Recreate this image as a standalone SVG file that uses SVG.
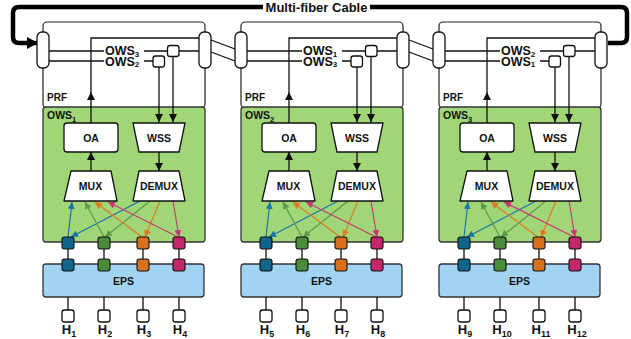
<svg xmlns="http://www.w3.org/2000/svg" width="631" height="339" viewBox="0 0 631 339">
  <style>
    text { font-family: "Liberation Sans", Arial, sans-serif; font-weight: bold; fill: #111; }
    .ln { fill: none; stroke: #111; stroke-width: 1.3; }
    .box { fill: #fff; stroke: #111; stroke-width: 1.3; }
    .prf { fill: #fff; stroke: #222; stroke-width: 1.2; }
    .ows { fill: #a0d678; stroke: #333; stroke-width: 1.3; }
    .eps { fill: #a0d4f2; stroke: #333; stroke-width: 1.3; }
    .pb { fill: #0f668a; stroke: #111; stroke-width: 1.1; }
    .pg { fill: #4a8b3c; stroke: #111; stroke-width: 1.1; }
    .po { fill: #d9701e; stroke: #111; stroke-width: 1.1; }
    .pm { fill: #c4266a; stroke: #111; stroke-width: 1.1; }
    .ab { stroke: #1a74a6; stroke-width: 1.2; fill: none; marker-end: url(#mb); }
    .ag { stroke: #5a9a4a; stroke-width: 1.2; fill: none; marker-end: url(#mg); }
    .ao { stroke: #e07b22; stroke-width: 1.2; fill: none; marker-end: url(#mo); }
    .am { stroke: #c73a77; stroke-width: 1.2; fill: none; marker-end: url(#mm); }
    .lbl { font-size: 12.5px; }
    .nm { font-size: 10.5px; text-anchor: middle; }
    .host { font-size: 13px; text-anchor: middle; }
  </style>
  <defs>
    <marker id="mk" markerUnits="userSpaceOnUse" markerWidth="9" markerHeight="8" refX="8" refY="4" orient="auto">
      <path d="M0,0 L8,4 L0,8 Z" fill="#111"/>
    </marker>
    <marker id="mb" markerUnits="userSpaceOnUse" markerWidth="8" markerHeight="7" refX="7" refY="3.5" orient="auto">
      <path d="M0,0 L7,3.5 L0,7 Z" fill="#1a74a6"/>
    </marker>
    <marker id="mg" markerUnits="userSpaceOnUse" markerWidth="8" markerHeight="7" refX="7" refY="3.5" orient="auto">
      <path d="M0,0 L7,3.5 L0,7 Z" fill="#5a9a4a"/>
    </marker>
    <marker id="mo" markerUnits="userSpaceOnUse" markerWidth="8" markerHeight="7" refX="7" refY="3.5" orient="auto">
      <path d="M0,0 L7,3.5 L0,7 Z" fill="#e07b22"/>
    </marker>
    <marker id="mm" markerUnits="userSpaceOnUse" markerWidth="8" markerHeight="7" refX="7" refY="3.5" orient="auto">
      <path d="M0,0 L7,3.5 L0,7 Z" fill="#c73a77"/>
    </marker>
    <marker id="mc" markerUnits="userSpaceOnUse" markerWidth="12" markerHeight="12" refX="10" refY="6" orient="auto">
      <path d="M0,0 L11,6 L0,12 Z" fill="#000"/>
    </marker>
  </defs>

  <rect width="631" height="339" fill="#fff"/>

  <!-- ===== Optical switch block 1 ===== -->
  <g id="block1">
    <g id="prf1"><rect class="prf" x="43" y="22" width="162" height="86" rx="4"/><text x="47" y="101" font-size="10">PRF</text></g>
    <g id="ows1"><rect class="ows" x="43" y="107" width="162" height="135" rx="3"/><text x="47" y="119" font-size="10.5">OWS<tspan font-size="7.5" dy="2.5">1</tspan></text></g>
    <g id="eps1"><rect class="eps" x="43" y="264" width="161" height="33" rx="3"/><text class="nm" x="123.5" y="284.5">EPS</text></g>
  </g>
  <!-- ===== Optical switch block 2 ===== -->
  <g id="block2" transform="translate(198 0)">
    <g id="prf2"><rect class="prf" x="43" y="22" width="162" height="86" rx="4"/><text x="47" y="101" font-size="10">PRF</text></g>
    <g id="ows2"><rect class="ows" x="43" y="107" width="162" height="135" rx="3"/><text x="47" y="119" font-size="10.5">OWS<tspan font-size="7.5" dy="2.5">2</tspan></text></g>
    <g id="eps2"><rect class="eps" x="43" y="264" width="161" height="33" rx="3"/><text class="nm" x="123.5" y="284.5">EPS</text></g>
  </g>
  <!-- ===== Optical switch block 3 ===== -->
  <g id="block3" transform="translate(396 0)">
    <g id="prf3"><rect class="prf" x="43" y="22" width="162" height="86" rx="4"/><text x="47" y="101" font-size="10">PRF</text></g>
    <g id="ows3"><rect class="ows" x="43" y="107" width="162" height="135" rx="3"/><text x="47" y="119" font-size="10.5">OWS<tspan font-size="7.5" dy="2.5">3</tspan></text></g>
    <g id="eps3"><rect class="eps" x="43" y="264" width="161" height="33" rx="3"/><text class="nm" x="123.5" y="284.5">EPS</text></g>
  </g>

  <!-- ===== Connectors ===== -->
  <g id="connectors">
    <!-- multi-fiber cable loop -->
    <path d="M608,43 H621 Q627,43 627,37 V13 Q627,7 621,7 H19 Q13,7 13,13 V37 Q13,43 19,43 H37" fill="none" stroke="#000" stroke-width="4.5" marker-end="url(#mc)"/>
    <!-- inter-block fibres -->
    <path class="ln" d="M211,40 L235,49 M211,52 L235,61 M409,40 L433,49 M409,52 L433,61"/>
  </g>
  <g id="cable-label">
    <rect x="263" y="0" width="107" height="14" fill="#fff"/>
    <text x="316.5" y="12" font-size="13" text-anchor="middle">Multi-fiber Cable</text>
  </g>

  <!-- per-block internals: one group per translated block -->
  <g transform="translate(0 0)">
    <g id="b1-conn">
      <path class="ln" d="M91,92 V38 H199"/>
      <path class="ln" d="M91,123 V92" marker-end="url(#mk)"/>
      <path class="ln" d="M91,171 V152" marker-end="url(#mk)"/>
      <path class="ln" d="M49,51 H104 M144,51 H168 M179,51 H199 M49,61 H104 M144,61 H153"/>
      <path class="ln" d="M173,56 V122" marker-end="url(#mk)"/>
      <path class="ln" d="M159,67 V122" marker-end="url(#mk)"/>
      <path class="ln" d="M159,152 V171" marker-end="url(#mk)"/>
      <path class="ab" d="M68,237 L72,202"/><path class="ab" d="M140,201 L71,237"/>
      <path class="ag" d="M104,237 L85,202"/><path class="ag" d="M150,201 L105,237"/>
      <path class="ao" d="M142,237 L95,202"/><path class="ao" d="M160,201 L145,237"/>
      <path class="am" d="M178,237 L108,202"/><path class="am" d="M173,201 L179,237"/>
      <path class="ln" d="M68,249 V259 M104,249 V259 M143,249 V259 M179,249 V259 M68,297 V310 M104,297 V310 M143,297 V310 M179,297 V310"/>
    </g>
    <g id="b1-pillL"><rect class="box" x="37" y="32" width="12" height="36" rx="5"/></g>
    <g id="b1-pillR"><rect class="box" x="199" y="32" width="12" height="36" rx="5"/></g>
    <g id="b1-swA"><rect class="box" x="167.5" y="45.5" width="11.5" height="11" rx="2.5"/></g>
    <g id="b1-swB"><rect class="box" x="153" y="56" width="11.5" height="11" rx="2.5"/></g>
    <g id="b1-lbl"><text class="lbl" x="105" y="55">OWS<tspan font-size="8" dy="1.5">3</tspan></text><text class="lbl" x="105" y="65.5">OWS<tspan font-size="8" dy="1.5">2</tspan></text></g>
    <g id="b1-oa"><rect class="box" x="64" y="123" width="54" height="29" rx="3"/><text class="nm" x="91" y="141.5">OA</text></g>
    <g id="b1-wss"><path class="box" stroke-linejoin="round" d="M133,123 H185 L179,152 H139 Z"/><text class="nm" x="159" y="141.5">WSS</text></g>
    <g id="b1-mux"><path class="box" stroke-linejoin="round" d="M71,171 H111 L117,201 H64 Z"/><text class="nm" x="90.5" y="190">MUX</text></g>
    <g id="b1-demux"><path class="box" stroke-linejoin="round" d="M139,171 H179 L185,201 H133 Z"/><text class="nm" x="159" y="190">DEMUX</text></g>
    <g id="b1-ports"><rect class="pb" x="62" y="237" width="12" height="12" rx="2.5"/><rect class="pg" x="98" y="237" width="12" height="12" rx="2.5"/><rect class="po" x="137" y="237" width="12" height="12" rx="2.5"/><rect class="pm" x="173" y="237" width="12" height="12" rx="2.5"/>
      <rect class="pb" x="62" y="259" width="12" height="12" rx="2.5"/><rect class="pg" x="98" y="259" width="12" height="12" rx="2.5"/><rect class="po" x="137" y="259" width="12" height="12" rx="2.5"/><rect class="pm" x="173" y="259" width="12" height="12" rx="2.5"/></g>
    <g id="h1"><rect class="box" x="62" y="310" width="12" height="12" rx="2.5"/><text class="host" x="69" y="334">H<tspan font-size="9" dy="2.5">1</tspan></text></g>
    <g id="h2"><rect class="box" x="98" y="310" width="12" height="12" rx="2.5"/><text class="host" x="105" y="334">H<tspan font-size="9" dy="2.5">2</tspan></text></g>
    <g id="h3"><rect class="box" x="137" y="310" width="12" height="12" rx="2.5"/><text class="host" x="144" y="334">H<tspan font-size="9" dy="2.5">3</tspan></text></g>
    <g id="h4"><rect class="box" x="173" y="310" width="12" height="12" rx="2.5"/><text class="host" x="180" y="334">H<tspan font-size="9" dy="2.5">4</tspan></text></g>
  </g>

  <g transform="translate(198 0)">
    <g id="b2-conn">
      <path class="ln" d="M91,92 V38 H199"/>
      <path class="ln" d="M91,123 V92" marker-end="url(#mk)"/>
      <path class="ln" d="M91,171 V152" marker-end="url(#mk)"/>
      <path class="ln" d="M49,51 H104 M144,51 H168 M179,51 H199 M49,61 H104 M144,61 H153"/>
      <path class="ln" d="M173,56 V122" marker-end="url(#mk)"/>
      <path class="ln" d="M159,67 V122" marker-end="url(#mk)"/>
      <path class="ln" d="M159,152 V171" marker-end="url(#mk)"/>
      <path class="ab" d="M68,237 L72,202"/><path class="ab" d="M140,201 L71,237"/>
      <path class="ag" d="M104,237 L85,202"/><path class="ag" d="M150,201 L105,237"/>
      <path class="ao" d="M142,237 L95,202"/><path class="ao" d="M160,201 L145,237"/>
      <path class="am" d="M178,237 L108,202"/><path class="am" d="M173,201 L179,237"/>
      <path class="ln" d="M68,249 V259 M104,249 V259 M143,249 V259 M179,249 V259 M68,297 V310 M104,297 V310 M143,297 V310 M179,297 V310"/>
    </g>
    <g id="b2-pillL"><rect class="box" x="37" y="32" width="12" height="36" rx="5"/></g>
    <g id="b2-pillR"><rect class="box" x="199" y="32" width="12" height="36" rx="5"/></g>
    <g id="b2-swA"><rect class="box" x="167.5" y="45.5" width="11.5" height="11" rx="2.5"/></g>
    <g id="b2-swB"><rect class="box" x="153" y="56" width="11.5" height="11" rx="2.5"/></g>
    <g id="b2-lbl"><text class="lbl" x="105" y="55">OWS<tspan font-size="8" dy="1.5">1</tspan></text><text class="lbl" x="105" y="65.5">OWS<tspan font-size="8" dy="1.5">3</tspan></text></g>
    <g id="b2-oa"><rect class="box" x="64" y="123" width="54" height="29" rx="3"/><text class="nm" x="91" y="141.5">OA</text></g>
    <g id="b2-wss"><path class="box" stroke-linejoin="round" d="M133,123 H185 L179,152 H139 Z"/><text class="nm" x="159" y="141.5">WSS</text></g>
    <g id="b2-mux"><path class="box" stroke-linejoin="round" d="M71,171 H111 L117,201 H64 Z"/><text class="nm" x="90.5" y="190">MUX</text></g>
    <g id="b2-demux"><path class="box" stroke-linejoin="round" d="M139,171 H179 L185,201 H133 Z"/><text class="nm" x="159" y="190">DEMUX</text></g>
    <g id="b2-ports"><rect class="pb" x="62" y="237" width="12" height="12" rx="2.5"/><rect class="pg" x="98" y="237" width="12" height="12" rx="2.5"/><rect class="po" x="137" y="237" width="12" height="12" rx="2.5"/><rect class="pm" x="173" y="237" width="12" height="12" rx="2.5"/>
      <rect class="pb" x="62" y="259" width="12" height="12" rx="2.5"/><rect class="pg" x="98" y="259" width="12" height="12" rx="2.5"/><rect class="po" x="137" y="259" width="12" height="12" rx="2.5"/><rect class="pm" x="173" y="259" width="12" height="12" rx="2.5"/></g>
    <g id="h5"><rect class="box" x="62" y="310" width="12" height="12" rx="2.5"/><text class="host" x="69" y="334">H<tspan font-size="9" dy="2.5">5</tspan></text></g>
    <g id="h6"><rect class="box" x="98" y="310" width="12" height="12" rx="2.5"/><text class="host" x="105" y="334">H<tspan font-size="9" dy="2.5">6</tspan></text></g>
    <g id="h7"><rect class="box" x="137" y="310" width="12" height="12" rx="2.5"/><text class="host" x="144" y="334">H<tspan font-size="9" dy="2.5">7</tspan></text></g>
    <g id="h8"><rect class="box" x="173" y="310" width="12" height="12" rx="2.5"/><text class="host" x="180" y="334">H<tspan font-size="9" dy="2.5">8</tspan></text></g>
  </g>

  <g transform="translate(396 0)">
    <g id="b3-conn">
      <path class="ln" d="M91,92 V38 H199"/>
      <path class="ln" d="M91,123 V92" marker-end="url(#mk)"/>
      <path class="ln" d="M91,171 V152" marker-end="url(#mk)"/>
      <path class="ln" d="M49,51 H104 M144,51 H168 M179,51 H199 M49,61 H104 M144,61 H153"/>
      <path class="ln" d="M173,56 V122" marker-end="url(#mk)"/>
      <path class="ln" d="M159,67 V122" marker-end="url(#mk)"/>
      <path class="ln" d="M159,152 V171" marker-end="url(#mk)"/>
      <path class="ab" d="M68,237 L72,202"/><path class="ab" d="M140,201 L71,237"/>
      <path class="ag" d="M104,237 L85,202"/><path class="ag" d="M150,201 L105,237"/>
      <path class="ao" d="M142,237 L95,202"/><path class="ao" d="M160,201 L145,237"/>
      <path class="am" d="M178,237 L108,202"/><path class="am" d="M173,201 L179,237"/>
      <path class="ln" d="M68,249 V259 M104,249 V259 M143,249 V259 M179,249 V259 M68,297 V310 M104,297 V310 M143,297 V310 M179,297 V310"/>
    </g>
    <g id="b3-pillL"><rect class="box" x="37" y="32" width="12" height="36" rx="5"/></g>
    <g id="b3-pillR"><rect class="box" x="199" y="32" width="12" height="36" rx="5"/></g>
    <g id="b3-swA"><rect class="box" x="167.5" y="45.5" width="11.5" height="11" rx="2.5"/></g>
    <g id="b3-swB"><rect class="box" x="153" y="56" width="11.5" height="11" rx="2.5"/></g>
    <g id="b3-lbl"><text class="lbl" x="105" y="55">OWS<tspan font-size="8" dy="1.5">2</tspan></text><text class="lbl" x="105" y="65.5">OWS<tspan font-size="8" dy="1.5">1</tspan></text></g>
    <g id="b3-oa"><rect class="box" x="64" y="123" width="54" height="29" rx="3"/><text class="nm" x="91" y="141.5">OA</text></g>
    <g id="b3-wss"><path class="box" stroke-linejoin="round" d="M133,123 H185 L179,152 H139 Z"/><text class="nm" x="159" y="141.5">WSS</text></g>
    <g id="b3-mux"><path class="box" stroke-linejoin="round" d="M71,171 H111 L117,201 H64 Z"/><text class="nm" x="90.5" y="190">MUX</text></g>
    <g id="b3-demux"><path class="box" stroke-linejoin="round" d="M139,171 H179 L185,201 H133 Z"/><text class="nm" x="159" y="190">DEMUX</text></g>
    <g id="b3-ports"><rect class="pb" x="62" y="237" width="12" height="12" rx="2.5"/><rect class="pg" x="98" y="237" width="12" height="12" rx="2.5"/><rect class="po" x="137" y="237" width="12" height="12" rx="2.5"/><rect class="pm" x="173" y="237" width="12" height="12" rx="2.5"/>
      <rect class="pb" x="62" y="259" width="12" height="12" rx="2.5"/><rect class="pg" x="98" y="259" width="12" height="12" rx="2.5"/><rect class="po" x="137" y="259" width="12" height="12" rx="2.5"/><rect class="pm" x="173" y="259" width="12" height="12" rx="2.5"/></g>
    <g id="h9"><rect class="box" x="62" y="310" width="12" height="12" rx="2.5"/><text class="host" x="69" y="334">H<tspan font-size="9" dy="2.5">9</tspan></text></g>
    <g id="h10"><rect class="box" x="98" y="310" width="12" height="12" rx="2.5"/><text class="host" x="106" y="334">H<tspan font-size="9" dy="2.5">10</tspan></text></g>
    <g id="h11"><rect class="box" x="137" y="310" width="12" height="12" rx="2.5"/><text class="host" x="145" y="334">H<tspan font-size="9" dy="2.5">11</tspan></text></g>
    <g id="h12"><rect class="box" x="173" y="310" width="12" height="12" rx="2.5"/><text class="host" x="181" y="334">H<tspan font-size="9" dy="2.5">12</tspan></text></g>
  </g>
</svg>
